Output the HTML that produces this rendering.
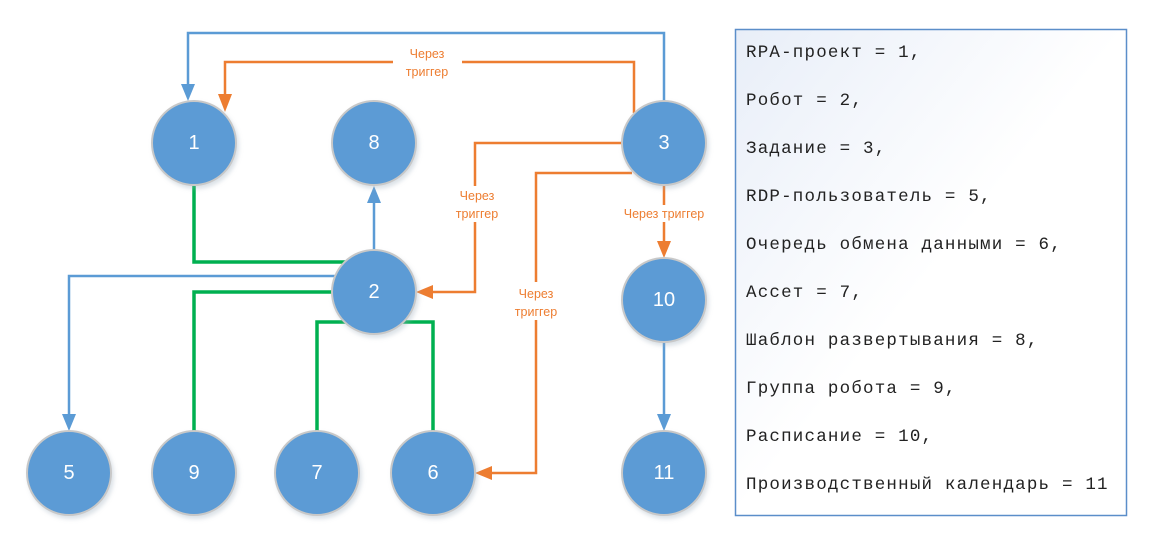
<!DOCTYPE html>
<html><head><meta charset="utf-8"><style>
html,body{margin:0;padding:0;background:#fff;}
svg{display:block;}
.n{fill:#5b9bd5;stroke:#c8c8c8;stroke-width:2;}
.t{font-family:"Liberation Sans","DejaVu Sans",sans-serif;font-size:20px;fill:#fff;text-anchor:middle;dominant-baseline:central;}
.o{font-family:"Liberation Sans","DejaVu Sans",sans-serif;font-size:12.5px;fill:#ed7d31;text-anchor:middle;}
.l{font-family:"Liberation Mono","DejaVu Sans Mono",monospace;font-size:17.5px;fill:#222;letter-spacing:1.2px;}
</style></head><body>
<svg width="1166" height="553" viewBox="0 0 1166 553">
<defs>
<linearGradient id="g" x1="0" y1="0" x2="1" y2="1"><stop offset="0" stop-color="#e8eef8"/><stop offset="0.5" stop-color="#ffffff"/></linearGradient>
<filter id="s" x="-20%" y="-20%" width="150%" height="150%"><feDropShadow dx="2" dy="3" stdDeviation="2" flood-color="#9ab" flood-opacity="0.35"/></filter>
</defs>
<rect x="735.5" y="29.5" width="391" height="486" fill="url(#g)" stroke="#5b8ec9" stroke-width="1.5"/>
<g class="l">
<text x="746" y="57">RPA-проект = 1,</text>
<text x="746" y="105">Робот = 2,</text>
<text x="746" y="153">Задание = 3,</text>
<text x="746" y="201">RDP-пользователь = 5,</text>
<text x="746" y="249">Очередь обмена данными = 6,</text>
<text x="746" y="297">Ассет = 7,</text>
<text x="746" y="345">Шаблон развертывания = 8,</text>
<text x="746" y="393">Группа робота = 9,</text>
<text x="746" y="441">Расписание = 10,</text>
<text x="746" y="489">Производственный календарь = 11</text>
</g>
<g fill="none" stroke="#00b050" stroke-width="3.5">
<path d="M194 186 V262 H347"/>
<path d="M334 292 H194 V431"/>
<path d="M346 322 H317 V431"/>
<path d="M402 322 H433 V431"/>
</g>
<g fill="none" stroke="#5b9bd5" stroke-width="2.5">
<path d="M664 101 V33 H188 V86"/>
<path d="M374 250 V200"/>
<path d="M336 276 H69 V416"/>
<path d="M664 342 V416"/>
</g>
<g fill="#5b9bd5">
<polygon points="181,84 195,84 188,101"/>
<polygon points="367,203 381,203 374,186"/>
<polygon points="62,414 76,414 69,431"/>
<polygon points="657,414 671,414 664,431"/>
</g>
<g fill="none" stroke="#ed7d31" stroke-width="2.5">
<path d="M634 113 V62 H462 M393 62 H225 V96"/>
<path d="M622 143 H475 V186 M475 222 V292 H432"/>
<path d="M632 173 H536 V282 M536 320 V473 H491"/>
<path d="M664 186 V205 M664 222 V242"/>
</g>
<g fill="#ed7d31">
<polygon points="218,94 232,94 225,112"/>
<polygon points="433,285 433,299 416,292"/>
<polygon points="492,466 492,480 475,473"/>
<polygon points="657,241 671,241 664,258"/>
</g>
<g class="o">
<text x="427" y="58">Через</text><text x="427" y="76">триггер</text>
<text x="477" y="200">Через</text><text x="477" y="218">триггер</text>
<text x="536" y="298">Через</text><text x="536" y="316">триггер</text>
<text x="664" y="218">Через триггер</text>
</g>
<g filter="url(#s)">
<circle class="n" cx="194" cy="143" r="42"/>
<circle class="n" cx="374" cy="143" r="42"/>
<circle class="n" cx="664" cy="143" r="42"/>
<circle class="n" cx="374" cy="292" r="42"/>
<circle class="n" cx="664" cy="300" r="42"/>
<circle class="n" cx="69" cy="473" r="42"/>
<circle class="n" cx="194" cy="473" r="42"/>
<circle class="n" cx="317" cy="473" r="42"/>
<circle class="n" cx="433" cy="473" r="42"/>
<circle class="n" cx="664" cy="473" r="42"/>
</g>
<g class="t">
<text x="194" y="143">1</text><text x="374" y="143">8</text><text x="664" y="143">3</text>
<text x="374" y="292">2</text><text x="664" y="300">10</text>
<text x="69" y="473">5</text><text x="194" y="473">9</text><text x="317" y="473">7</text>
<text x="433" y="473">6</text><text x="664" y="473">11</text>
</g>
</svg>
</body></html>
